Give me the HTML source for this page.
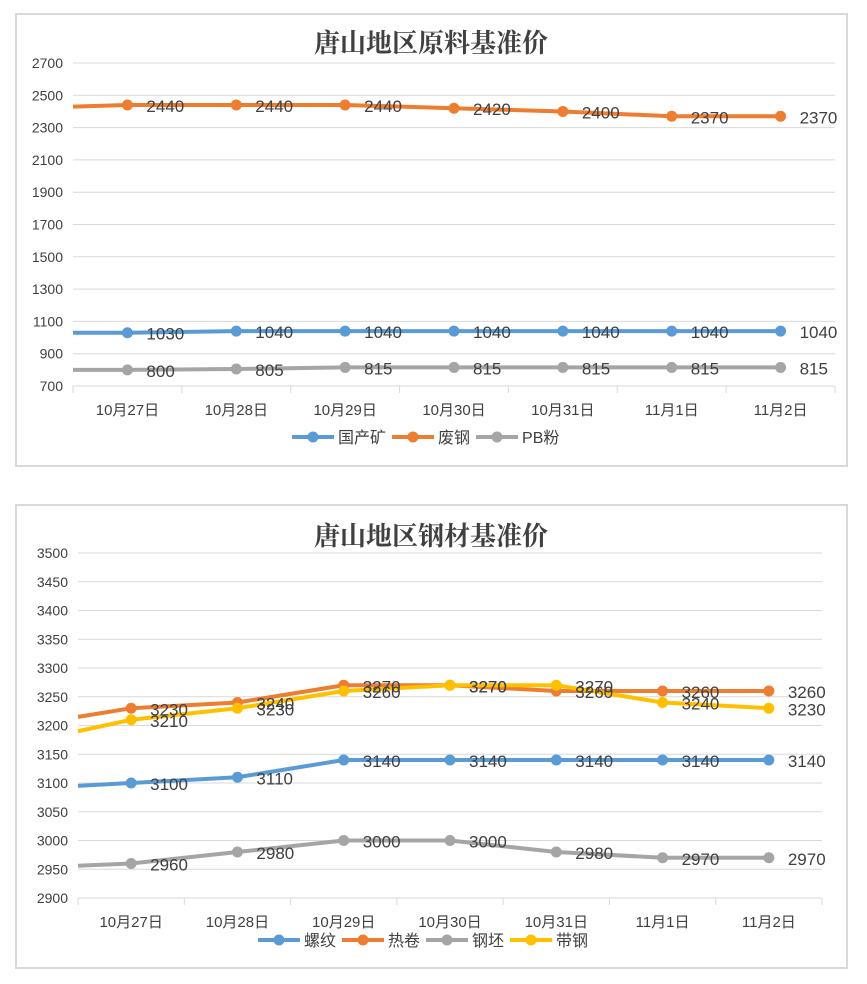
<!DOCTYPE html>
<html><head><meta charset="utf-8">
<style>
body{margin:0;background:#fff;width:867px;height:984px;overflow:hidden}
svg{position:absolute;left:0;top:0}
text{font-family:"Liberation Sans","Noto Sans CJK SC",sans-serif}
</style></head><body>
<svg id="s" width="867" height="984"></svg>
<script>
const cats=["10月27日","10月28日","10月29日","10月30日","10月31日","11月1日","11月2日"];
const c1Names=["国产矿","废钢","PB粉"];
const c1Colors=["#5b9bd5","#ed7d31","#a5a5a5"];
const c1Lead=[1030,2430,800];
const c1Blue=[1030,1040,1040,1040,1040,1040,1040];
const c1Orange=[2440,2440,2440,2420,2400,2370,2370];
const c1Gray=[800,805,815,815,815,815,815];
const c1Ticks=[700,900,1100,1300,1500,1700,1900,2100,2300,2500,2700];
const c2Names=["螺纹","热卷","钢坯","带钢"];
const c2Colors=["#5b9bd5","#ed7d31","#a5a5a5","#ffc000"];
const c2Lead=[3095,3215,2956,3190];
const c2Rebar=[3100,3110,3140,3140,3140,3140,3140];
const c2Coil=[3230,3240,3270,3270,3260,3260,3260];
const c2Billet=[2960,2980,3000,3000,2980,2970,2970];
const c2Strip=[3210,3230,3260,3270,3270,3240,3230];
const c2Ticks=[2900,2950,3000,3050,3100,3150,3200,3250,3300,3350,3400,3450,3500];
const NS="http://www.w3.org/2000/svg";
const svg=document.getElementById('s');
function mk(t,a,p){const e=document.createElementNS(NS,t);for(const k in a)e.setAttribute(k,a[k]);(p||svg).appendChild(e);return e;}
function chart(o){
 const g=mk('g',{});
 
 
 const fr=mk('rect',{x:o.fx,y:o.fy,width:o.fw,height:o.fh,fill:'#fff',stroke:'#d9d9d9','stroke-width':2},g);
 
 
 const t=mk('text',{x:431,y:o.ty,'text-anchor':'middle','font-size':26,'font-weight':'bold',fill:'#404040',style:'font-family:"Noto Serif CJK SC","Liberation Serif",serif'},g);
 t.textContent=o.title;
 
 
 const ymin=o.ticks[0],ymax=o.ticks[o.ticks.length-1];
 const Y=v=>o.y0+(ymax-v)/(ymax-ymin)*(o.y1-o.y0);
 const cw=(o.x1-o.x0)/cats.length;
 const X=i=>o.x0+cw*(i+0.5);
 o.ticks.forEach(v=>{
  const l=mk('line',{x1:o.x0,x2:o.x1,y1:Y(v),y2:Y(v),stroke:'#d9d9d9','stroke-width':1},g);
  
  
  const tx=mk('text',{x:o.x0-10,y:Y(v)+5,'text-anchor':'end','font-size':14,fill:'#404040'},g);
  tx.textContent=v;
  
  
 });
 for(let i=0;i<=cats.length;i++){
  const tk=mk('line',{x1:o.x0+cw*i,x2:o.x0+cw*i,y1:o.y1,y2:o.y1+7,stroke:'#d9d9d9'},g);
  
  
 }
 cats.forEach((c,i)=>{
  const tx=mk('text',{x:X(i),y:o.y1+29,'text-anchor':'middle','font-size':15,fill:'#404040'},g);
  tx.textContent=c;
  
  
 });
 o.series.forEach((s,k)=>{
  let d='M'+o.x0+','+Y(o.lead[k]);
  s.forEach((v,i)=>d+=' L'+X(i)+','+Y(v));
  const p=mk('path',{d:d,fill:'none',stroke:o.colors[k],'stroke-width':4,'stroke-linejoin':'round'},g);
  
  
  s.forEach((v,i)=>{
   const m=mk('circle',{cx:X(i),cy:Y(v),r:5.5,fill:o.colors[k]},g);
   
   
  });
 });
 o.series.forEach((s,k)=>{
  s.forEach((v,i)=>{
   const tx=mk('text',{x:X(i)+19,y:Y(v)+7,'font-size':17,fill:'#404040'},g);
   tx.textContent=v;
   
   
  });
 });
 let lx=o.lx;
 o.names.forEach((n,k)=>{
  const lg=mk('g',{},g);
  
  
  mk('line',{x1:lx,x2:lx+42,y1:o.ly,y2:o.ly,stroke:o.colors[k],'stroke-width':4},lg);
  mk('circle',{cx:lx+21,cy:o.ly,r:5.5,fill:o.colors[k]},lg);
  const tx=mk('text',{x:lx+46,y:o.ly+6,'font-size':16,fill:'#404040'},lg);
  tx.textContent=n;
  lx+=46+tx.getComputedTextLength()+6;
 });
}
chart({name:'raw-material-chart',fx:16,fy:14,fw:831,fh:452,title:'唐山地区原料基准价',ty:52,
 x0:73,x1:835,y0:63,y1:386,ticks:c1Ticks,names:c1Names,colors:c1Colors,lead:c1Lead,
 series:[c1Blue,c1Orange,c1Gray],lx:292,ly:437});
chart({name:'steel-chart',fx:16,fy:505,fw:831,fh:463,title:'唐山地区钢材基准价',ty:545,
 x0:78,x1:822,y0:553,y1:898,ticks:c2Ticks,names:c2Names,colors:c2Colors,lead:c2Lead,
 series:[c2Rebar,c2Coil,c2Billet,c2Strip],lx:258,ly:940});
</script>
</body></html>
